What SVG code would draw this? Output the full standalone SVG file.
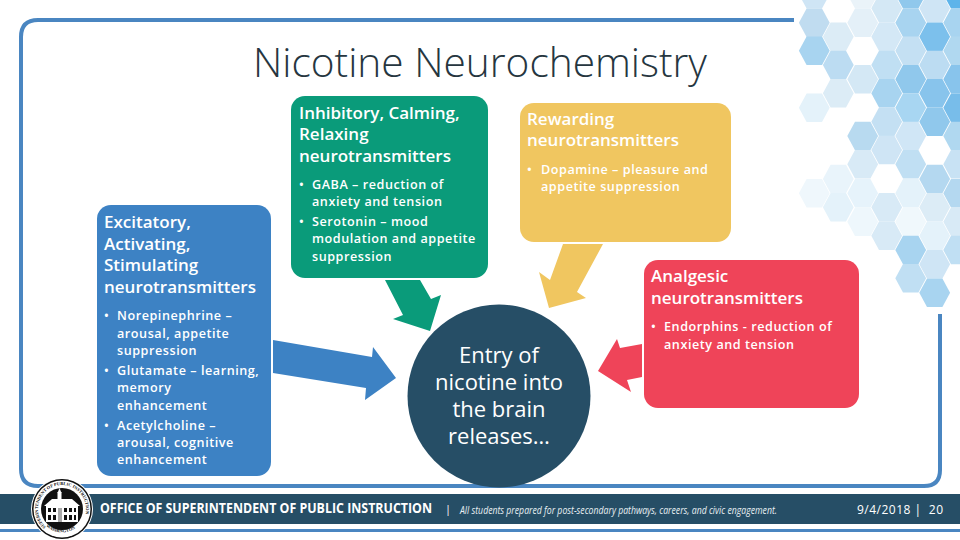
<svg xmlns="http://www.w3.org/2000/svg" width="960" height="540" viewBox="0 0 960 540">
<style>
text{font-family:"Open Sans","Noto Sans","Liberation Sans",sans-serif}
.h{font-size:17px;font-weight:600;fill:#fff}
.b{font-size:12.6px;font-weight:600;fill:#fff;letter-spacing:.55px}
.c{font-size:22px;fill:#fff;text-anchor:middle}
.s{font-size:4.5px;font-family:"Liberation Serif",serif;font-weight:700;fill:#111}
</style>
<defs>
<polygon id="hx" points="-15.4,0 -7.7,-14.2 7.7,-14.2 15.4,0 7.7,14.2 -7.7,14.2"/>
<path id="sealTop" d="M46,527 A24,24 0 1 1 78,527"/>
<path id="sealBot" d="M41,520 A24,24 0 0 0 83,520"/>
</defs>
<rect width="960" height="540" fill="#fff"/>
<g id="hexes">
<use href="#hx" x="814.3" y="-5.7" fill="#cfe5f5"/>
<use href="#hx" x="814.3" y="22.7" fill="#c0dcf0"/>
<use href="#hx" x="814.3" y="50.7" fill="#a8d4f0"/>
<use href="#hx" x="814.3" y="107.7" fill="#e4f2fa"/>
<use href="#hx" x="814.3" y="193.3" fill="#eff7fc"/>
<use href="#hx" x="838.3" y="36.7" fill="#dcecf6"/>
<use href="#hx" x="838.3" y="65" fill="#bcdcf2"/>
<use href="#hx" x="838.3" y="93.3" fill="#dcecf6"/>
<use href="#hx" x="838.3" y="179" fill="#e9f4fb"/>
<use href="#hx" x="838.3" y="207.3" fill="#e4f2fa"/>
<use href="#hx" x="862.7" y="-5.7" fill="#eaf3f9"/>
<use href="#hx" x="862.7" y="22.7" fill="#e4f0f8"/>
<use href="#hx" x="862.7" y="79.3" fill="#d4e8f5"/>
<use href="#hx" x="862.7" y="136" fill="#b8daf0"/>
<use href="#hx" x="862.7" y="164.3" fill="#d8eaf6"/>
<use href="#hx" x="862.7" y="193.3" fill="#e6f3fb"/>
<use href="#hx" x="862.7" y="221.7" fill="#eef7fc"/>
<use href="#hx" x="886.7" y="8.3" fill="#d4e8f5"/>
<use href="#hx" x="886.7" y="36.7" fill="#d4e8f6"/>
<use href="#hx" x="886.7" y="65" fill="#c0dff3"/>
<use href="#hx" x="886.7" y="93.3" fill="#a8d4f0"/>
<use href="#hx" x="886.7" y="121.7" fill="#c4e0f3"/>
<use href="#hx" x="886.7" y="150" fill="#cfe5f5"/>
<use href="#hx" x="886.7" y="207.3" fill="#d8eaf6"/>
<use href="#hx" x="886.7" y="235.7" fill="#d8eaf6"/>
<use href="#hx" x="910.7" y="-5.7" fill="#90c8ec"/>
<use href="#hx" x="910.7" y="22.7" fill="#a8d4f0"/>
<use href="#hx" x="910.7" y="50.7" fill="#c4e0f3"/>
<use href="#hx" x="910.7" y="79.3" fill="#90c8ec"/>
<use href="#hx" x="910.7" y="107.7" fill="#a8d6f2"/>
<use href="#hx" x="910.7" y="136" fill="#d0e6f6"/>
<use href="#hx" x="910.7" y="164.3" fill="#c0dff3"/>
<use href="#hx" x="910.7" y="193.3" fill="#e4f2fa"/>
<use href="#hx" x="910.7" y="221.7" fill="#f0f8fc"/>
<use href="#hx" x="910.7" y="250" fill="#a8d4f0"/>
<use href="#hx" x="910.7" y="278.3" fill="#c0dff3"/>
<use href="#hx" x="934.7" y="8.3" fill="#cfe5f5"/>
<use href="#hx" x="934.7" y="36.7" fill="#7cc0ec"/>
<use href="#hx" x="934.7" y="65" fill="#bcdcf2"/>
<use href="#hx" x="934.7" y="93.3" fill="#88c4ec"/>
<use href="#hx" x="934.7" y="121.7" fill="#90c8ec"/>
<use href="#hx" x="934.7" y="179" fill="#b4d8f0"/>
<use href="#hx" x="934.7" y="207.3" fill="#dcecf6"/>
<use href="#hx" x="934.7" y="235.7" fill="#e4f2fa"/>
<use href="#hx" x="934.7" y="264.3" fill="#cfe5f5"/>
<use href="#hx" x="934.7" y="292.7" fill="#a8d4f0"/>
<use href="#hx" x="958.7" y="-5.7" fill="#5eb4ea"/>
<use href="#hx" x="958.7" y="22.7" fill="#a8d4f0"/>
<use href="#hx" x="958.7" y="50.7" fill="#b0d8f0"/>
<use href="#hx" x="958.7" y="79.3" fill="#88c4ec"/>
<use href="#hx" x="958.7" y="107.7" fill="#78bdea"/>
<use href="#hx" x="958.7" y="136" fill="#b0d8f0"/>
<use href="#hx" x="958.7" y="164.3" fill="#c8e2f4"/>
<use href="#hx" x="958.7" y="193.3" fill="#b4d8f0"/>
<use href="#hx" x="958.7" y="221.7" fill="#d8eaf6"/>
<use href="#hx" x="958.7" y="250" fill="#c0dff3"/>
</g>
<path id="frame" d="M794,20 H38 Q21,20 21,37 V469 Q21,486 38,486 H924 Q940,486 940,470 V314" fill="none" stroke="#4a86c1" stroke-width="4"/>
<g id="footer">
<rect x="0" y="494" width="960" height="30" fill="#264e66"/>
<rect x="0" y="529" width="960" height="3" fill="#4a86c1"/>
<text x="100" y="513" font-size="13.5" font-weight="700" fill="#fff" textLength="332" lengthAdjust="spacingAndGlyphs">OFFICE OF SUPERINTENDENT OF PUBLIC INSTRUCTION</text>
<text x="445" y="513" font-size="11" fill="#fff">|</text>
<text x="460" y="514" font-size="10" font-style="italic" fill="#e8eef2" textLength="317" lengthAdjust="spacingAndGlyphs">All students prepared for post-secondary pathways, careers, and civic engagement.</text>
<text x="857" y="514" font-size="12" fill="#fff" textLength="86" xml:space="preserve">9/4/2018 |  20</text>
</g>
<g id="seal">
<circle cx="62" cy="509" r="31" fill="#fff"/>
<circle cx="62" cy="509" r="30" fill="#111"/>
<circle cx="62" cy="509" r="28.5" fill="#fff"/>
<circle cx="62" cy="509" r="21" fill="#111"/>
<text class="s"><textPath href="#sealTop">SUPERINTENDENT OF PUBLIC INSTRUCTION</textPath></text>
<text class="s"><textPath href="#sealBot" startOffset="8">WASHINGTON</textPath></text>
<rect x="46" y="505" width="32" height="17" fill="#fff"/>
<polygon points="44,506 52,499 72,499 80,506" fill="#fff"/>
<rect x="57.5" y="492" width="4" height="8" fill="#fff"/>
<polygon points="59.5,488 61.5,493 57.5,493" fill="#fff"/>
<path d="M48,508h3v4h-3zM53,508h3v4h-3zM64,508h3v4h-3zM69,508h3v4h-3zM74,508h2v4h-2zM48,515h3v5h-3zM53,515h3v5h-3zM64,515h3v5h-3zM69,515h3v5h-3zM74,515h2v5h-2z" fill="#111"/>
<rect x="58" y="508" width="4" height="14" fill="#aaa"/>
</g>
<text id="title" x="253" y="77" font-size="41" font-weight="300" fill="#26363f" textLength="454" lengthAdjust="spacingAndGlyphs">Nicotine Neurochemistry</text>
<g id="connectors">
<polygon points="273,340 372,357 373,347 396,378 365,400 366,388 273,373" fill="#3d82c4"/>
<polygon points="385,280 420,280 431,299 441,295 430,331 393,319 403,315" fill="#0a9b7a"/>
<polygon points="563,244 603,244 577,292 586,298 549,308 539,272 550,280" fill="#f0c660"/>
<polygon points="642,344 642,377 627,380 631,392 598,371 617,339 620,348" fill="#ef4459"/>
</g>
<g id="node-excitatory">
<rect x="97" y="205" width="174" height="271" rx="14" fill="#3d82c4"/>
<text class="h" x="104" y="228">Excitatory,</text>
<text class="h" x="104" y="250">Activating,</text>
<text class="h" x="104" y="271">Stimulating</text>
<text class="h" x="104" y="293">neurotransmitters</text>
<text class="b" x="104" y="320">•<tspan x="117">Norepinephrine –</tspan></text>
<text class="b" x="117" y="338">arousal, appetite</text>
<text class="b" x="117" y="355">suppression</text>
<text class="b" x="104" y="375">•<tspan x="117">Glutamate – learning,</tspan></text>
<text class="b" x="117" y="392">memory</text>
<text class="b" x="117" y="410">enhancement</text>
<text class="b" x="104" y="430">•<tspan x="117">Acetylcholine –</tspan></text>
<text class="b" x="117" y="447">arousal, cognitive</text>
<text class="b" x="117" y="464">enhancement</text>
</g>
<g id="node-inhibitory">
<rect x="291" y="96" width="197" height="182" rx="14" fill="#0a9b7a"/>
<text class="h" x="299" y="119">Inhibitory, Calming,</text>
<text class="h" x="299" y="140">Relaxing</text>
<text class="h" x="299" y="162">neurotransmitters</text>
<text class="b" x="299" y="189">•<tspan x="312">GABA – reduction of</tspan></text>
<text class="b" x="312" y="206">anxiety and tension</text>
<text class="b" x="299" y="226">•<tspan x="312">Serotonin – mood</tspan></text>
<text class="b" x="312" y="243">modulation and appetite</text>
<text class="b" x="312" y="261">suppression</text>
</g>
<g id="node-rewarding">
<rect x="520" y="103" width="211" height="139" rx="14" fill="#f0c660"/>
<text class="h" x="527" y="125">Rewarding</text>
<text class="h" x="527" y="146">neurotransmitters</text>
<text class="b" x="527" y="174">•<tspan x="541">Dopamine – pleasure and</tspan></text>
<text class="b" x="541" y="191">appetite suppression</text>
</g>
<g id="node-analgesic">
<rect x="644" y="260" width="215" height="148" rx="14" fill="#ef4459"/>
<text class="h" x="651" y="282">Analgesic</text>
<text class="h" x="651" y="304">neurotransmitters</text>
<text class="b" x="651" y="331">•<tspan x="664">Endorphins - reduction of</tspan></text>
<text class="b" x="664" y="349">anxiety and tension</text>
</g>
<g id="node-entry">
<circle cx="499" cy="396" r="91.5" fill="#264e66"/>
<text class="c" x="499" y="363">Entry of</text>
<text class="c" x="499" y="390">nicotine into</text>
<text class="c" x="499" y="417">the brain</text>
<text class="c" x="499" y="444">releases…</text>
</g>
</svg>
